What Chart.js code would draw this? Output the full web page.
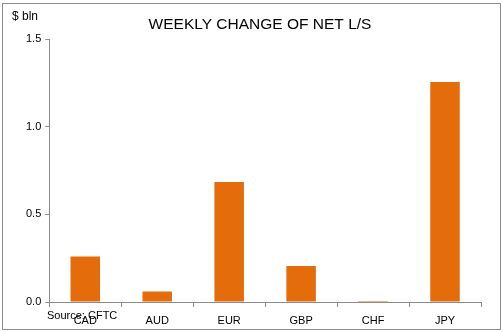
<!DOCTYPE html>
<html>
<head>
<meta charset="utf-8">
<script src="https://cdn.jsdelivr.net/npm/chart.js@4"></script>
<style>
  html, body { margin: 0; padding: 0; background: #fff; }
  #wrap { width: 503px; height: 332px; }
</style>
</head>
<body>
<div id="wrap"><canvas id="myChart" width="503" height="332"></canvas></div>
<script>
"use strict";

// data
const currencies = ['CAD', 'AUD', 'EUR', 'GBP', 'CHF', 'JPY'];
const weeklyChange = [0.26, 0.06, 0.685, 0.205, 0.006, 1.255];
const yTicks = [0.0, 0.5, 1.0, 1.5];

const axisGray = '#8c8c8c';
const fontFam = '"Liberation Sans", Arial, sans-serif';

// frame, title, unit label and source note
const extras = {
  id: 'extras',
  afterDraw(chart) {
    const ctx = chart.ctx;
    ctx.save();
    ctx.strokeStyle = axisGray;
    ctx.lineWidth = 1;
    ctx.strokeRect(2.5, 3.5, 498, 326);
    ctx.fillStyle = '#000';
    ctx.textBaseline = 'middle';
    ctx.textAlign = 'center';
    ctx.font = '15.5px ' + fontFam;
    ctx.fillText('WEEKLY CHANGE OF NET L/S', 260, 25);
    ctx.textAlign = 'left';
    ctx.font = '12px ' + fontFam;
    ctx.fillText('$ bln', 12, 17);
    ctx.font = '11px ' + fontFam;
    ctx.fillText('Source: CFTC', 47, 316);
    ctx.restore();
  }
};

const ctx = document.querySelector('#myChart').getContext('2d');

const config = {
  type: 'bar',
  data: {
    labels: currencies,
    datasets: [{
      data: weeklyChange,
      backgroundColor: '#E46C0A',
      borderWidth: 0,
      categoryPercentage: 1.0,
      barPercentage: 0.41
    }]
  },
  options: {
    responsive: false,
    animation: false,
    layout: { padding: { left: 22, right: 22, top: 39, bottom: 0 } },
    plugins: {
      legend: { display: false },
      tooltip: { enabled: false },
      title: { display: false }
    },
    scales: {
      y: {
        min: 0,
        max: 1.5,
        afterBuildTicks: axis => { axis.ticks = yTicks.map(v => ({ value: v })); },
        ticks: {
          color: '#000',
          font: { family: fontFam, size: 11 },
          padding: 4,
          callback: v => Number(v).toFixed(1)
        },
        grid: { drawOnChartArea: false, drawTicks: true, tickLength: 4, color: axisGray },
        border: { color: axisGray }
      },
      x: {
        afterFit: axis => { axis.height = 30; },
        ticks: {
          color: '#000',
          font: { family: fontFam, size: 11 },
          padding: 7
        },
        grid: { drawOnChartArea: false, drawTicks: true, tickLength: 5, color: axisGray, offset: true },
        border: { color: axisGray }
      }
    }
  },
  plugins: [extras]
};

const myChart = new Chart(ctx, config);
</script>
</body>
</html>
